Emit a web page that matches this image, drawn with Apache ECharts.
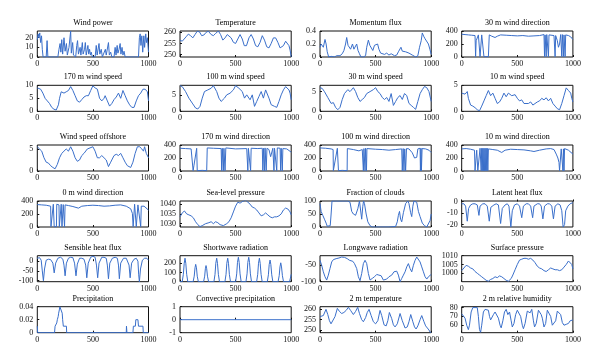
<!DOCTYPE html>
<html><head><meta charset="utf-8">
<script src="https://cdn.jsdelivr.net/npm/echarts@6/dist/echarts.min.js"></script>
<style>html,body{margin:0;padding:0;background:#fff}#c{width:600px;height:363px}</style>
</head><body><div id="c"></div>
<script>
const titles = ["Wind power","Temperature","Momentum flux","30 m wind direction",
"170 m wind speed","100 m wind speed","30 m wind speed","10 m wind speed",
"Wind speed offshore","170 m wind direction","100 m wind direction","10 m wind direction",
"0 m wind direction","Sea-level pressure","Fraction of clouds","Latent heat flux",
"Sensible heat flux","Shortwave radiation","Longwave radiation","Surface pressure",
"Precipitation","Convective precipitation","2 m temperature","2 m relative humidity"];

const xTicks = [0, 500, 1000];
const yTicks = [[0,10,20],[250,255,260],[0,0.2,0.4],[0,200,400],
[0,5,10],[0,5],[0,5],[0,5],
[0,5],[0,200,400],[0,200,400],[0,200,400],
[0,200,400],[1030,1035,1040],[0,50,100],[-20,-10,0],
[-100,-50,0],[0,100,200],[-100,-50],[1000,1005,1010],
[0,0.02,0.04],[-1,0,1],[250,255,260],[60,70,80]];
const yRanges = [[0,27],[248.9,260.6],[0,0.4],[0,400],
[0,10],[0,7.9],[0,6.6],[0,5],
[0,5.9],[0,400],[0,400],[0,400],
[0,400],[1028.3,1041.6],[0,100],[-22,0.4],
[-105,28],[0,282],[-100,-21],[995.2,1010],
[0,0.04],[-1,1],[248.7,261.3],[51.5,81]];

const windPower = [[0,18],[8,24],[15,20],[22,25],[30,15],[38,22],[45,8],[52,0],[80,0],[88,17],[95,0],[185,0],[195,8],[205,14],[212,5],[220,18],[228,3],[240,20],[250,6],[262,14],[270,2],[285,10],[300,27],[306,4],[318,15],[325,2],[345,0],[355,12],[362,17],[370,3],[385,10],[392,2],[405,15],[412,3],[425,8],[432,15],[440,2],[455,12],[462,3],[470,8],[478,2],[485,5],[495,0],[520,0],[530,12],[538,2],[555,14],[562,3],[575,8],[585,0],[600,0],[612,8],[620,2],[640,15],[648,2],[660,5],[670,0],[690,0],[700,10],[708,2],[718,12],[725,4],[735,8],[745,14],[752,3],[762,10],[770,2],[780,6],[790,0],[910,0],[918,20],[925,24],[932,12],[940,22],[948,5],[958,22],[965,10],[975,24],[982,15],[990,20],[1000,5]];
const temperature = [[0,256.5],[20,256],[35,256.2],[55,258],[75,259.2],[95,258.5],[115,257.5],[135,259],[155,260.5],[175,260.2],[195,258.5],[215,258.8],[235,260],[255,260.5],[280,259],[300,258.5],[320,259.5],[345,260.6],[365,259],[385,256.5],[405,257.5],[425,259],[440,259.5],[460,257.5],[480,255.5],[500,255],[520,257],[540,259],[560,257],[578,254],[598,254],[620,257.5],[640,259],[660,257],[680,254],[700,253.5],[720,255.5],[740,258.5],[760,256.5],[780,253.5],[800,253],[820,255],[840,257.5],[860,257.5],[880,255.5],[900,253],[915,252.5],[930,254],[950,256],[965,256.5],[980,254],[990,252],[1000,249]];
const momentumFlux = [[0,0.15],[10,0.2],[20,0.18],[30,0.15],[45,0.27],[55,0.2],[65,0.08],[78,0],[100,0.01],[130,0],[150,0.02],[165,0],[180,0.02],[200,0.05],[215,0.1],[230,0.2],[240,0.3],[252,0.18],[262,0.15],[275,0.12],[292,0.2],[305,0.12],[318,0.15],[330,0.2],[342,0.1],[355,0.05],[368,0],[390,0],[410,0.02],[420,0.15],[435,0.26],[448,0.18],[460,0.15],[475,0.1],[490,0.18],[505,0.15],[518,0.2],[530,0.12],[545,0.06],[560,0.05],[580,0.04],[600,0.06],[620,0.03],[640,0.05],[655,0.06],[670,0.02],[690,0.03],[705,0.08],[718,0.1],[728,0.15],[740,0.09],[755,0.06],[770,0.08],[785,0.05],[800,0.06],[815,0.05],[830,0.03],[845,0.01],[860,0],[880,0.02],[895,0.15],[910,0.25],[920,0.37],[932,0.32],[945,0.28],[960,0.25],[975,0.2],[988,0.12],[1000,0.04]];
const wdir30 = [[0,350],[30,345],[60,340],[90,335],[120,330],[125,5],[130,250],[150,340],[160,345],[165,5],[175,5],[180,340],[195,340],[200,5],[240,5],[248,340],[270,320],[300,300],[320,320],[350,340],[400,335],[450,330],[500,325],[550,330],[600,320],[650,325],[700,330],[740,345],[745,5],[750,340],[760,5],[765,345],[775,340],[780,5],[785,340],[800,330],[830,330],[840,5],[845,330],[860,250],[870,150],[880,200],[890,345],[900,5],[905,345],[910,345],[915,5],[920,340],[930,5],[935,340],[960,330],[980,310],[1000,270]];
const ws170 = [[0,9],[10,9.2],[30,8.5],[50,7],[70,5],[90,4],[110,3],[130,1.5],[150,0.8],[170,0.5],[180,1],[190,2.5],[200,5],[215,7.5],[240,7],[260,7.5],[280,8],[300,9.5],[320,8],[340,6],[360,4],[380,3.5],[400,4.5],[420,5.5],[440,6],[460,6],[480,8],[500,9.8],[520,9],[540,8.5],[560,5],[580,4],[600,5],[610,6],[630,4],[650,2],[670,3],[690,4.5],[710,5.5],[730,7],[750,5],[770,8],[790,6],[810,4],[830,2.5],[850,1.5],[870,1.5],[890,4],[910,6],[930,7],[950,8.5],[970,8.5],[990,7.5],[1000,4]];
const ws100 = [[0,7.8],[20,7.5],[50,6],[80,4],[110,2.5],[140,1],[160,0.7],[180,1.5],[200,4],[220,6],[250,6.5],[280,7],[300,7.8],[330,6],[350,4],[370,3],[400,4],[420,5],[450,5.5],[480,6.5],[500,7.8],[530,7],[560,6],[580,4],[600,5],[630,3.5],[650,5],[670,1.5],[690,3],[710,4.5],[730,6],[750,4],[770,6.5],[800,4],[820,2],[850,1.5],[870,1.2],[890,3],[910,5],[930,6.5],[950,7.5],[960,8],[980,6.5],[990,5.5],[1000,3.5]];
const ws30 = [[0,6],[20,5.8],[40,5],[70,3.5],[100,2],[120,2.2],[140,1],[160,0.4],[180,1],[200,3],[220,4.5],[250,5.5],[270,5],[300,6],[320,5],[340,3.5],[360,2.5],[380,3],[400,3.5],[420,4.5],[450,5],[480,5.5],[500,6],[520,5],[540,4.5],[560,3.5],[580,3],[600,3.5],[620,2.5],[640,4.5],[660,1.5],[680,2.5],[700,3.5],[720,4],[740,3],[760,4.5],[780,4],[800,2],[820,1.5],[840,1],[860,0.5],[880,2.5],[900,4.5],[920,5.5],[940,6.3],[960,6],[980,5],[990,4.5],[1000,2.5]];
const ws10 = [[0,3.5],[10,3.8],[30,3.3],[50,3.8],[60,2.5],[80,1.2],[100,1],[120,0.7],[140,0.3],[160,0.1],[180,1],[200,2],[220,3],[240,4],[260,3],[280,3.5],[300,2.5],[320,1.5],[340,1.8],[360,2.5],[380,3.5],[400,2.8],[420,3.5],[450,3],[480,3.2],[500,2.5],[520,2],[540,2.2],[560,1.5],[600,1.5],[620,1.8],[640,1.2],[680,1.8],[700,2],[720,2.5],[740,2.2],[760,2.6],[780,2],[800,2.5],[820,1.5],[840,1],[860,0.5],[880,0.3],[900,1.5],[920,3],[940,4.5],[960,4],[980,3.5],[990,2.5],[1000,1.8]];
const wsOffshore = [[0,5.5],[20,5],[40,4.5],[60,3],[80,2],[100,1.8],[120,1.2],[140,0.8],[160,0.5],[180,1.5],[200,3],[220,4],[240,4.5],[260,5],[280,4.5],[300,5.5],[320,4.5],[340,3],[360,2.2],[380,2.5],[400,3.5],[420,4],[450,5],[500,5.5],[520,4.5],[540,3],[560,3],[580,3.5],[600,3],[620,2.5],[640,1],[660,2],[690,3.5],[710,3.8],[730,3.5],[750,4],[770,3],[790,2],[810,1.2],[840,0.8],[860,2],[880,4],[900,5.5],[920,5.5],[940,5],[955,4.5],[965,5.5],[980,4],[1000,3]];
const wdir170 = [[0,350],[50,345],[100,340],[115,335],[118,5],[125,80],[150,350],[155,5],[200,10],[240,5],[245,355],[300,350],[370,345],[375,5],[380,350],[390,5],[395,350],[400,350],[405,5],[412,355],[420,345],[500,340],[600,345],[610,5],[615,350],[630,355],[635,5],[640,350],[700,345],[740,350],[745,5],[752,350],[760,5],[765,355],[775,5],[782,350],[800,330],[815,220],[825,200],[835,350],[845,5],[850,350],[870,5],[875,355],[900,350],[905,5],[910,350],[920,5],[925,345],[960,340],[1000,290]];
const wdir100 = [[0,355],[50,350],[100,340],[118,330],[120,5],[156,350],[166,5],[200,10],[244,5],[246,345],[300,330],[350,310],[380,330],[390,5],[395,345],[405,5],[410,350],[418,5],[422,345],[500,335],[560,330],[620,320],[680,330],[735,340],[740,5],[748,345],[755,5],[762,340],[770,5],[778,345],[800,340],[830,280],[850,200],[870,210],[880,340],[900,350],[903,5],[908,350],[912,5],[918,345],[950,340],[980,320],[1000,285]];
const wdir10 = [[0,340],[40,345],[80,335],[115,320],[120,5],[128,5],[135,320],[140,345],[145,5],[160,5],[165,350],[175,5],[180,350],[185,5],[190,350],[195,5],[200,350],[205,5],[210,350],[215,5],[220,350],[225,5],[230,350],[235,5],[240,340],[280,330],[320,320],[360,285],[390,320],[440,335],[500,330],[560,325],[620,310],[650,300],[700,320],[760,340],[800,345],[830,330],[850,260],[865,200],[875,130],[880,5],[890,5],[895,340],[905,350],[910,5],[915,340],[920,5],[925,345],[960,320],[1000,260]];
const wdir0 = [[0,345],[40,340],[80,335],[120,320],[123,5],[144,350],[152,5],[172,5],[175,350],[195,340],[198,5],[212,5],[215,350],[222,5],[230,5],[233,345],[240,345],[245,5],[250,340],[280,330],[320,315],[370,290],[400,320],[450,330],[500,335],[550,330],[600,320],[650,325],[700,335],[750,340],[800,320],[840,280],[855,210],[862,5],[870,5],[875,350],[885,355],[890,5],[900,5],[905,340],[920,340],[930,5],[935,320],[960,320],[1000,260]];
const seaPressure = [[0,1033.5],[20,1035.5],[40,1036.5],[60,1035],[80,1034.5],[100,1034],[120,1033],[140,1031],[160,1029.5],[180,1028.5],[200,1029],[230,1030],[260,1030.5],[280,1031],[300,1030],[320,1031],[340,1030.5],[360,1029.5],[390,1029],[400,1028.5],[420,1030],[440,1031],[460,1033],[480,1036],[500,1039],[520,1041],[540,1040.5],[560,1041.3],[590,1042],[610,1041],[630,1040],[650,1038.5],[670,1038],[690,1037],[710,1035.5],[730,1034],[750,1034.5],[770,1035.5],[790,1034.5],[810,1033.5],[830,1033],[850,1033.5],[870,1033.5],[890,1034],[910,1035],[930,1037],[950,1038],[970,1037.5],[990,1036],[1000,1034.5]];
const clouds = [[0,90],[10,60],[25,45],[40,30],[55,15],[65,3],[80,0],[92,5],[100,50],[108,100],[150,100],[200,100],[250,100],[270,95],[285,60],[300,50],[320,45],[340,70],[355,100],[365,95],[375,30],[385,80],[392,100],[400,90],[415,50],[430,20],[450,5],[470,0],[550,0],[620,0],[680,2],[695,20],[705,45],[715,60],[725,30],[735,20],[750,55],[770,90],[790,100],[800,90],[815,55],[825,40],[835,80],[845,100],[860,100],[870,95],[885,60],[900,40],[920,15],[940,5],[960,0],[975,0],[990,25],[1000,50]];
const latentHeat = [[0,-2],[20,-2],[35,-4],[50,-17],[62,-6],[80,-3],[100,-2],[120,-2],[140,-3],[155,-12],[165,-4],[190,-2],[210,-2],[230,-4],[248,-17],[262,-5],[290,-3],[310,-2],[330,-3],[350,-19],[365,-6],[390,-3],[410,-2],[425,-4],[442,-22],[455,-8],[475,-3],[500,-2],[520,-4],[540,-14],[555,-4],[580,-2],[600,-2],[620,-4],[638,-14],[650,-4],[680,-2],[700,-2],[715,-4],[730,-15],[745,-4],[770,-2],[790,-2],[810,-4],[825,-15],[840,-4],[865,-2],[885,-3],[900,-8],[912,-22],[925,-20],[935,-8],[955,-4],[975,-2],[990,-1],[1000,-1]];
const sensibleHeat = [[0,15],[20,18],[35,5],[45,-50],[55,-100],[65,-40],[80,5],[100,10],[120,8],[140,-10],[152,-60],[165,-10],[185,15],[210,20],[230,10],[240,-20],[250,-75],[262,-10],[280,15],[300,20],[320,18],[335,-10],[348,-75],[360,-15],[380,15],[400,15],[420,10],[435,-20],[445,-85],[458,-10],[480,20],[500,25],[520,20],[532,-20],[543,-85],[555,-10],[580,20],[600,20],[620,15],[630,-20],[640,-90],[652,-10],[675,15],[700,20],[720,15],[730,-20],[738,-90],[750,-10],[775,15],[800,15],[815,5],[825,-20],[835,-85],[848,-10],[870,10],[890,15],[905,0],[912,-70],[918,-105],[928,-40],[945,5],[965,15],[985,15],[1000,5]];
const shortwave = [[0,0],[20,0],[30,80],[38,200],[45,255],[52,200],[60,80],[70,0],[118,0],[128,60],[135,150],[141,188],[148,150],[155,60],[165,0],[212,0],[222,60],[228,140],[234,175],[240,140],[247,60],[257,0],[305,0],[315,80],[322,200],[330,255],[337,200],[345,80],[355,0],[404,0],[414,80],[421,200],[429,255],[436,200],[444,80],[454,0],[500,0],[510,85],[517,210],[525,265],[532,210],[540,85],[550,0],[593,0],[603,85],[610,210],[618,265],[625,210],[633,85],[643,0],[689,0],[699,80],[706,200],[714,255],[721,200],[729,80],[739,0],[785,0],[795,75],[802,185],[810,235],[817,185],[825,75],[835,0],[882,0],[892,65],[899,160],[906,205],[913,160],[921,65],[931,0],[985,0],[993,40],[1000,80]];
const longwave = [[0,-35],[15,-50],[30,-70],[45,-85],[60,-95],[75,-80],[90,-60],[105,-40],[120,-33],[145,-30],[170,-28],[195,-25],[220,-26],[245,-30],[265,-35],[280,-40],[295,-38],[310,-45],[330,-60],[345,-85],[360,-97],[375,-75],[390,-45],[405,-35],[420,-45],[435,-75],[450,-95],[470,-90],[490,-85],[510,-78],[530,-80],[550,-82],[570,-95],[585,-100],[600,-92],[620,-85],[645,-80],[665,-70],[690,-68],[705,-80],[720,-100],[735,-90],[750,-80],[765,-70],[780,-55],[795,-45],[810,-60],[825,-70],[840,-50],[855,-35],[870,-25],[885,-28],[900,-40],[915,-55],[930,-70],[945,-85],[960,-92],[975,-85],[990,-80],[1000,-78]];
const surfPressure = [[0,1001.5],[20,1003],[40,1004.5],[60,1004],[80,1003],[100,1002.5],[120,1001],[140,1000],[160,999],[180,998],[200,997],[220,996],[240,995.5],[260,996.5],[280,997],[300,998],[320,997.5],[340,998.5],[360,998],[380,997],[400,996],[420,995.5],[430,996],[445,997],[460,999],[480,1002],[500,1005],[520,1007.5],[540,1008],[560,1008.5],[580,1008.5],[600,1008],[620,1008.5],[640,1007.5],[660,1006],[680,1004],[700,1003],[720,1002.5],[740,1001.5],[760,1001],[780,1002],[800,1003],[820,1002.5],[840,1002],[860,1002],[880,1001.5],[900,1002],[920,1003.5],[940,1005],[960,1007],[975,1006.5],[990,1005],[1000,1002.5]];
const precip = [[0,0.01],[3,0],[155,0],[160,0.01],[172,0.01],[175,0.015],[180,0.02],[188,0.025],[192,0.03],[198,0.035],[203,0.04],[220,0.04],[224,0.03],[228,0.02],[234,0.01],[250,0.01],[262,0.01],[264,0],[800,0],[802,0.01],[806,0],[860,0],[864,0.01],[882,0.01],[886,0.02],[905,0.02],[910,0.01],[950,0.01],[953,0],[1000,0]];
const convPrecip = [[0,0],[1000,0]];
const temp2m = [[0,256.5],[15,256],[30,257],[54,260],[70,257.5],[85,254.5],[99,253],[115,253.5],[135,256.5],[156,260.5],[175,259],[195,258],[215,258.5],[235,259.5],[255,261],[275,259.5],[300,257.5],[320,259],[339,261],[355,258],[375,255],[390,254],[410,256],[425,258.5],[441,260],[460,257],[480,254],[500,253],[520,254.5],[540,259.5],[555,257],[576,252.5],[595,252],[610,254.5],[624,258.5],[645,255.5],[660,252.5],[675,251.5],[695,253],[720,258],[740,254.5],[765,251],[785,251.5],[800,254],[816,257.5],[835,254],[850,251.5],[864,250.5],[880,252],[900,255],[915,257],[935,254],[950,252],[965,251.5],[980,250],[990,249],[1000,248.8]];
const rh2m = [[0,73],[15,72],[30,68],[45,60],[60,55],[70,60],[85,75],[100,80],[120,80],[140,80],[150,70],[160,55],[170,52],[180,60],[195,75],[210,78],[225,80],[240,77],[250,70],[260,66],[270,67],[285,72],[300,75],[315,73],[330,68],[345,60],[355,57],[370,65],[385,75],[400,78],[415,72],[430,75],[445,65],[455,58],[470,62],[485,72],[500,77],[515,75],[530,70],[545,60],[555,56],[570,62],[590,76],[605,78],[615,74],[630,78],[645,65],[655,58],[670,62],[690,77],[700,79],[715,72],[725,68],[740,58],[755,62],[770,77],[785,78],[800,70],[815,60],[830,58],[845,65],[860,76],[875,78],[890,72],[905,63],[920,60],[940,61],[960,62],[975,65],[990,64],[1000,66]];

const seriesData = [windPower,temperature,momentumFlux,wdir30,ws170,ws100,ws30,ws10,wsOffshore,wdir170,wdir100,wdir10,wdir0,seaPressure,clouds,latentHeat,sensibleHeat,shortwave,longwave,surfPressure,precip,convPrecip,temp2m,rh2m];

const colLeft = [37.3, 180, 320, 461.7];
const colW = 111.2;
const rowTop = [31, 85.3, 145, 201, 255.7, 306.7];
const rowH = 26;
const FONT = 'Liberation Serif';
const LINE = '#3a6fca';

const grids = [], xAxes = [], yAxes = [], series = [], tts = [];
titles.forEach((t, i) => {
  const r = Math.floor(i / 4), c = i % 4;
  grids.push({left: colLeft[c], top: rowTop[r], width: colW, height: rowH, show: true, borderColor: '#111', borderWidth: 1, backgroundColor: 'transparent'});
  xAxes.push({type: 'value', gridIndex: i, min: 0, max: 1000, interval: 500,
    axisLine: {show: false}, splitLine: {show: false},
    axisTick: {show: true, inside: true, length: 2, lineStyle: {color: '#111'}},
    axisLabel: {fontFamily: FONT, fontSize: 8, color: '#111', margin: 3,
      customValues: xTicks, formatter: v => String(v)}});
  yAxes.push({type: 'value', gridIndex: i, min: yRanges[i][0], max: yRanges[i][1],
    axisLine: {show: false}, splitLine: {show: false},
    axisTick: {show: true, inside: true, length: 2, lineStyle: {color: '#111'}, customValues: yTicks[i]},
    axisLabel: {fontFamily: FONT, fontSize: 8, color: '#111', margin: 4, customValues: yTicks[i],
      formatter: v => String(v)}});
  series.push({type: 'line', xAxisIndex: i, yAxisIndex: i, data: seriesData[i], showSymbol: false,
    symbol: 'none', lineStyle: {color: LINE, width: 1}, animation: false, clip: true});
  tts.push({text: t, left: colLeft[c] + colW / 2, top: rowTop[r] - 12, textAlign: 'center', padding: 0,
    textStyle: {fontFamily: FONT, fontSize: 8, fontWeight: 'normal', color: '#000'}});
});

const chart = echarts.init(document.getElementById('c'), null, {renderer: 'canvas'});
chart.setOption({animation: false, title: tts, grid: grids, xAxis: xAxes, yAxis: yAxes, series: series});
</script>
</body></html>
